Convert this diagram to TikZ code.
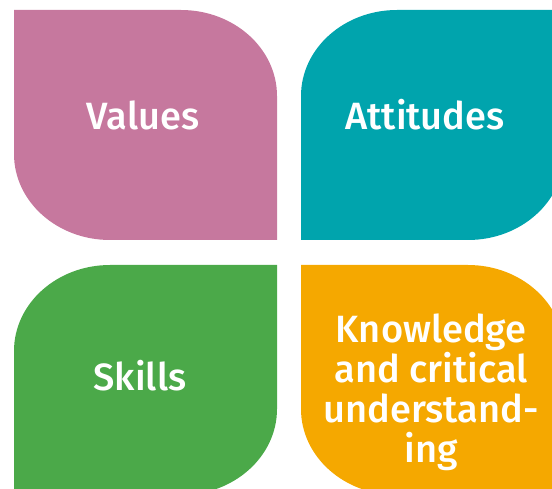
\documentclass[tikz,border=0pt]{standalone}
\usepackage{fontspec}
\setmainfont{Fira Sans}[BoldFont = {Fira Sans Medium}]

\definecolor{valuespink}{HTML}{C6789E}
\definecolor{attitudesteal}{HTML}{00A4AD}
\definecolor{skillsgreen}{HTML}{4BA949}
\definecolor{knowledgeorange}{HTML}{F5A800}

\begin{document}
\begin{tikzpicture}[
  x = 1pt, y = 1pt,
  every node/.style = {text = white, font = \fontsize{38}{40}\selectfont\bfseries},
  leaf/.style = {x radius = 96, y radius = 86},
  ]
  \useasboundingbox (0,0) rectangle (552,488);
  % top row
  \fill[valuespink] (14,478) -- (181,478)
    arc[leaf, start angle = 90, end angle = 0] -- (277,248) -- (110,248)
    arc[leaf, start angle = 270, end angle = 180] -- cycle;
  \fill[attitudesteal] (564,478) -- (564,334)
    arc[leaf, start angle = 0, end angle = -90] -- (301,248) -- (301,392)
    arc[leaf, start angle = 180, end angle = 90] -- cycle;
  % bottom row
  \fill[skillsgreen] (277,223) -- (277,79)
    arc[leaf, start angle = 0, end angle = -90] -- (14,-7) -- (14,137)
    arc[leaf, start angle = 180, end angle = 90] -- cycle;
  \fill[knowledgeorange] (301,223) -- (468,223)
    arc[leaf, start angle = 90, end angle = 0] -- (564,-7) -- (397,-7)
    arc[leaf, start angle = 270, end angle = 180] -- cycle;
  % labels
  \node[anchor = base] (values) at (143,358) {Values};
  \node[anchor = base] (attitudes) at (425,358) {Attitudes};
  \node[anchor = base] (skills) at (140,98) {Skills};
  \node[align = center] (knowledge) at (431,96) {Knowledge\\and critical\\understand-\\ing};
\end{tikzpicture}
\end{document}
